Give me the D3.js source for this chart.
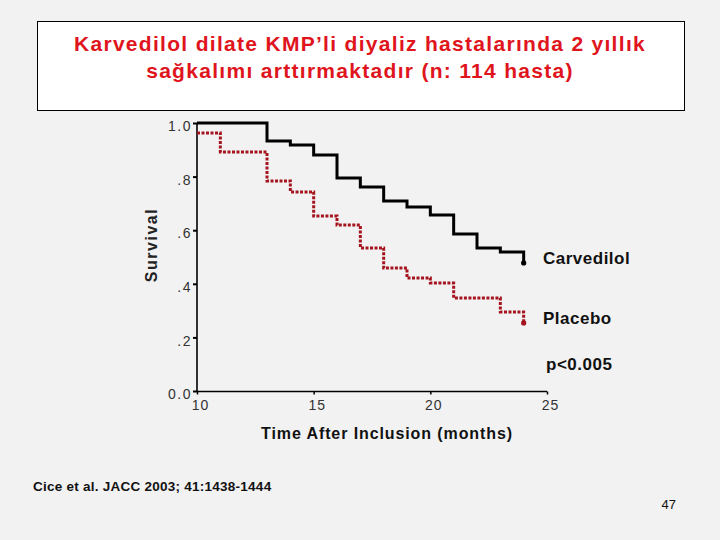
<!DOCTYPE html>
<html><head><meta charset="utf-8">
<script src="https://cdn.jsdelivr.net/npm/d3@7"></script>
<style>
html,body{margin:0;padding:0;background:#f2f2f2;}
svg{display:block;font-family:"Liberation Sans",Arial,sans-serif;}
</style></head>
<body><svg id="c" width="720" height="540"></svg>
<script>
const titleLines = ["Karvedilol dilate KMP’li diyaliz hastalarında 2 yıllık", "sağkalımı arttırmaktadır (n: 114 hasta)"];
const seriesNames = ["Carvedilol", "Placebo"];
const carvedilolTime = [10, 13, 14, 15, 16, 17, 18, 19, 20, 21, 22, 23, 24];
const carvedilolSurv = [1.0, 0.933, 0.918, 0.881, 0.795, 0.761, 0.709, 0.687, 0.657, 0.586, 0.534, 0.519, 0.478];
const placeboTime = [10, 11, 13, 14, 15, 16, 17, 18, 19, 20, 21, 23, 24];
const placeboSurv = [0.963, 0.892, 0.784, 0.743, 0.653, 0.619, 0.534, 0.459, 0.422, 0.403, 0.347, 0.295, 0.254];
const xTicks = [10, 15, 20, 25];
const yTicks = [0, 0.2, 0.4, 0.6, 0.8, 1.0];
const yTickLabels = ["0.0", ".2", ".4", ".6", ".8", "1.0"];
const xLabel = "Time After Inclusion (months)";
const yLabel = "Survival";
const pText = "p<0.005";
const citation = "Cice et al. JACC 2003; 41:1438-1444";
const pageNum = "47";

const svg = d3.select("#c");
svg.append("rect").attr("width",720).attr("height",540).attr("fill","#f2f2f2");

// title box
svg.append("rect").attr("x",37.5).attr("y",21.5).attr("width",647).attr("height",89)
  .attr("fill","#ffffff").attr("stroke","#000").attr("stroke-width",1);
svg.append("g").selectAll("text").data(titleLines).join("text")
  .attr("x",360).attr("y",(d,i)=>51+i*27).attr("text-anchor","middle")
  .attr("fill","#e0141c").style("font-weight","bold").style("font-size","21px")
  .style("letter-spacing","1.3px").text(d=>d);

const x = d3.scaleLinear().domain([10,25]).range([197,547]);
const y = d3.scaleLinear().domain([0,1]).range([391,123]);

// axes
const yAxis = d3.axisLeft(y).tickValues(yTicks).tickSize(4).tickPadding(1)
  .tickFormat((d,i)=>yTickLabels[i]);
const gy = svg.append("g").attr("transform","translate(197,0)").call(yAxis);
gy.select(".domain").attr("stroke","#000").attr("stroke-width",1.6).attr("d","M0,"+y(1)+"V"+(y(0)+1));
gy.selectAll(".tick line").attr("stroke","#000").attr("stroke-width",2);
gy.selectAll(".tick text").style("font-size","14px").attr("fill","#333").style("letter-spacing","1.5px")
  .style("font-family","'Liberation Sans', Arial, sans-serif").attr("dy","0.55em");

const xAxis = d3.axisBottom(x).tickValues(xTicks).tickSize(3).tickPadding(6);
const gx = svg.append("g").attr("transform","translate(0,391.5)").call(xAxis);
gx.select(".domain").attr("stroke","#000").attr("stroke-width",1.6).attr("d","M"+x(10)+",0H"+x(25));
gx.selectAll(".tick line").attr("stroke","#000").attr("stroke-width",1.5);
gx.selectAll(".tick text").style("font-size","14px").attr("fill","#333").style("letter-spacing","1px")
  .style("font-family","'Liberation Sans', Arial, sans-serif").attr("dx","3");

// lines
const line = d3.line().x(d=>x(d[0])).y(d=>y(d[1])).curve(d3.curveStepAfter);
const carv = carvedilolTime.map((t,i)=>[t,carvedilolSurv[i]]);
const plac = placeboTime.map((t,i)=>[t,placeboSurv[i]]);
svg.append("path").attr("d",line(plac)).attr("fill","none").attr("stroke","#a5141e")
  .attr("stroke-width",3).attr("stroke-dasharray","3,1.5");
svg.append("path").attr("d",line(carv)).attr("fill","none").attr("stroke","#000")
  .attr("stroke-width",3).attr("stroke-linejoin","miter");
const lastC = carv[carv.length-1], lastP = plac[plac.length-1];
svg.append("circle").attr("cx",x(lastC[0])).attr("cy",y(lastC[1])).attr("r",2.6).attr("fill","#000");
svg.append("circle").attr("cx",x(lastP[0])).attr("cy",y(lastP[1])).attr("r",2.6).attr("fill","#a5141e");

// legend labels
const legendY = [lastC[1], lastP[1]];
svg.append("g").selectAll("text").data(seriesNames).join("text")
  .attr("x",543).attr("y",(d,i)=>y(legendY[i])+1).style("font-size","17px").style("font-weight","bold")
  .style("letter-spacing","0.5px").attr("fill","#111").text(d=>d);
svg.append("text").attr("x",546).attr("y",370).style("font-size","17px").style("font-weight","bold")
  .style("letter-spacing","0.5px").attr("fill","#111").text(pText);

// axis labels
svg.append("text").attr("x",387).attr("y",439).attr("text-anchor","middle").style("font-size","16px")
  .style("font-weight","bold").attr("fill","#111").style("letter-spacing","0.9px").text(xLabel);
svg.append("text").attr("transform","translate(157,245) rotate(-90)").attr("text-anchor","middle")
  .style("font-size","16px").style("font-weight","bold").style("letter-spacing","1.5px").attr("fill","#222").text(yLabel);

// footer
svg.append("text").attr("x",33).attr("y",491).style("font-size","13.5px").style("font-weight","bold")
  .style("letter-spacing","0.25px").attr("fill","#111").text(citation);
svg.append("text").attr("x",676).attr("y",509).attr("text-anchor","end").style("font-size","13px")
  .attr("fill","#111").text(pageNum);
</script></body></html>
